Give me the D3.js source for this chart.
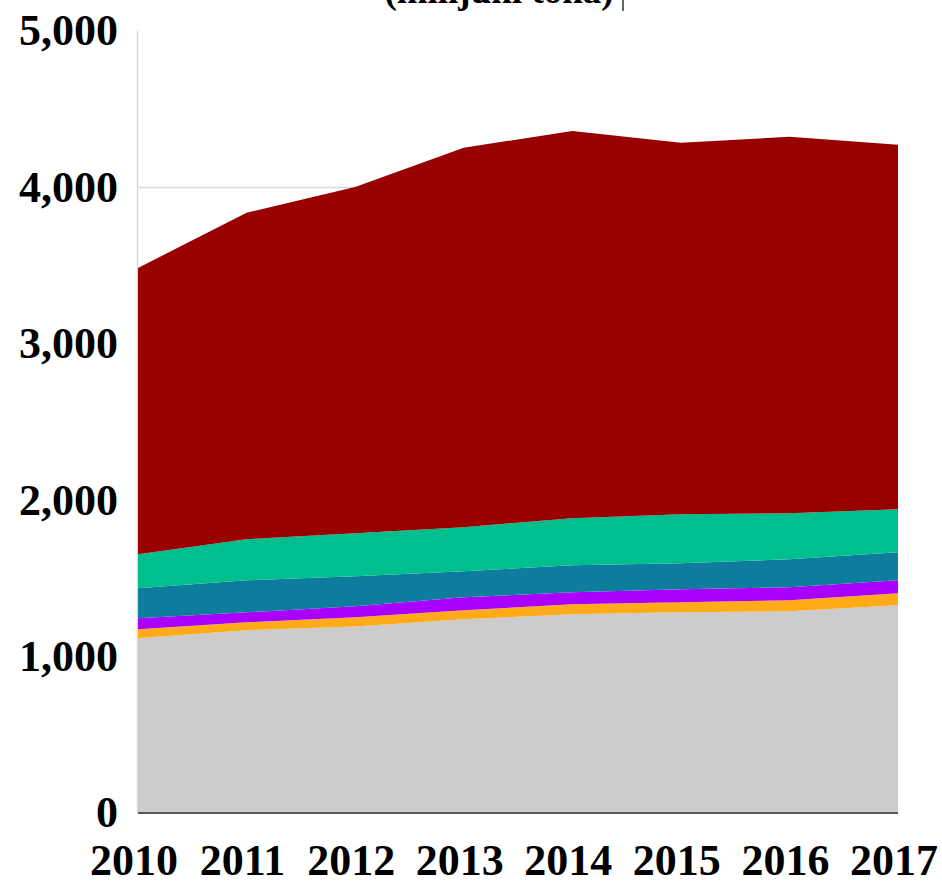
<!DOCTYPE html>
<html>
<head>
<meta charset="utf-8">
<script src="https://cdn.jsdelivr.net/npm/d3@7"></script>
<style>
  html, body { margin: 0; padding: 0; background: #fff; }
  svg { display: block; }
  text { font-family: "Liberation Serif", "Times New Roman", serif; font-weight: bold; fill: #000; }
</style>
</head>
<body>
<svg id="chart" width="942" height="881"></svg>
<script>
// ---- data ----
const years = [2010, 2011, 2012, 2013, 2014, 2015, 2016, 2017];
const seriesNames = ["S1", "S2", "S3", "S4", "S5", "S6"];
const s1 = [1114, 1165, 1190, 1235, 1267, 1280, 1286, 1325]; // grey
const s2 = [57, 51, 58, 58, 64, 64, 71, 77];                 // orange
const s3 = [71, 64, 70, 83, 77, 83, 83, 83];                 // purple
const s4 = [192, 205, 192, 166, 173, 167, 179, 179];         // blue
const s5 = [217, 262, 276, 282, 301, 313, 295, 275];         // teal
const s6 = [1831, 2087, 2214, 2426, 2476, 2375, 2406, 2330]; // dark red
const seriesColors = ["#cccccc", "#ffab19", "#aa00ff", "#0e7c9c", "#00bf8f", "#990000"];
const yTicks = [0, 1000, 2000, 3000, 4000, 5000];
const titleText = "(milijuni tona)";

(function () {
  // ---- layout ----
  const svg = d3.select("#chart");
  const mLeft = 138, mRight = 898, mTop = 30.5, mBottom = 812.5;

  const x = d3.scalePoint().domain(years).range([mLeft, mRight]);
  const y = d3.scaleLinear().domain([0, 5000]).range([mBottom, mTop]);

  const allSeries = [s1, s2, s3, s4, s5, s6];
  const rows = years.map((yr, i) => {
    const r = { year: yr };
    seriesNames.forEach((n, k) => r[n] = allSeries[k][i]);
    return r;
  });
  const stacked = d3.stack().keys(seriesNames)(rows);

  // gridlines (inner ticks only; the top one is not drawn in the reference)
  svg.append("g")
    .selectAll("line")
    .data(yTicks.filter(d => d > 0 && d < 5000))
    .join("line")
    .attr("x1", mLeft).attr("x2", mRight)
    .attr("y1", d => Math.round(y(d)) + 0.5).attr("y2", d => Math.round(y(d)) + 0.5)
    .attr("stroke", "#d9d9d9").attr("stroke-width", 1.5);

  // vertical axis line
  svg.append("line")
    .attr("x1", mLeft - 0.5).attr("x2", mLeft - 0.5)
    .attr("y1", y(5000)).attr("y2", mBottom)
    .attr("stroke", "#d9d9d9").attr("stroke-width", 1.5);

  // areas
  const area = d3.area()
    .x(d => x(d.data.year))
    .y0(d => y(d[0]))
    .y1(d => y(d[1]));

  svg.append("g")
    .selectAll("path")
    .data(stacked)
    .join("path")
    .attr("d", area)
    .attr("fill", (d, i) => seriesColors[i]);

  // baseline axis
  svg.append("line")
    .attr("x1", mLeft).attr("x2", mRight)
    .attr("y1", mBottom + 0.5).attr("y2", mBottom + 0.5)
    .attr("stroke", "#595959").attr("stroke-width", 2);

  // y axis labels
  const yFmt = d3.format(",");
  svg.append("g")
    .selectAll("text")
    .data(yTicks)
    .join("text")
    .attr("x", 118)
    .attr("y", d => y(d))
    .attr("dy", "0.34em")
    .attr("text-anchor", "end")
    .style("font-size", "44px")
    .text(d => yFmt(d));

  // x axis labels
  svg.append("g")
    .selectAll("text")
    .data(years)
    .join("text")
    .attr("x", d => x(d) - 4)
    .attr("y", 875)
    .attr("text-anchor", "middle")
    .style("font-size", "44px")
    .text(d => d);

  // title (cut off at top)
  svg.append("text")
    .attr("x", 499)
    .attr("y", 3)
    .attr("text-anchor", "middle")
    .style("font-size", "37px")
    .text(titleText);

  // small cursor mark after the title
  svg.append("line")
    .attr("x1", 623).attr("x2", 623)
    .attr("y1", 0).attr("y2", 11)
    .attr("stroke", "#333").attr("stroke-width", 1.5);
})();
</script>
</body>
</html>
